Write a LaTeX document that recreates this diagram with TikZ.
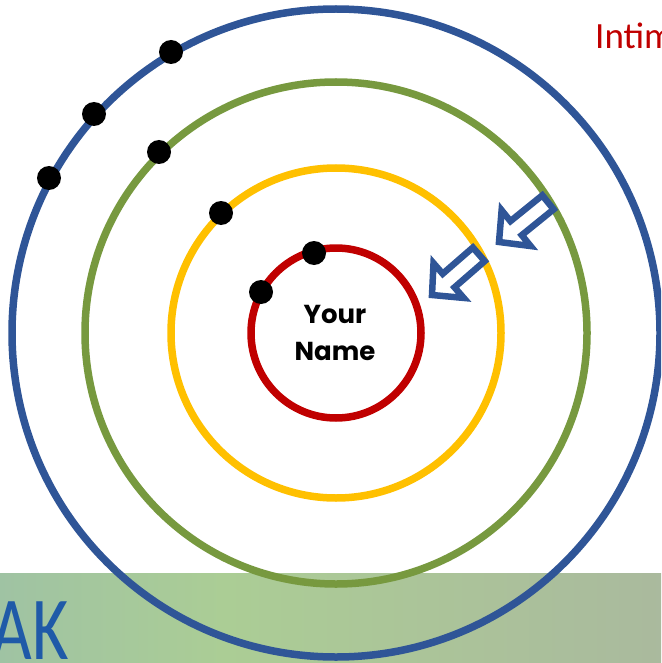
\documentclass[tikz,border=0pt]{standalone}
\usepackage{fontspec}
\setmainfont{Carlito}
\newfontfamily\namefont{Poppins}
\definecolor{cblue}{HTML}{2F5597}
\definecolor{cgreen}{HTML}{77993F}
\definecolor{cyellow}{HTML}{FFC000}
\definecolor{cred}{HTML}{C00000}
\definecolor{akblue}{HTML}{1F5AA8}
\definecolor{bandL}{HTML}{8EB4B8}
\definecolor{bandM}{HTML}{ABCD95}
\definecolor{bandR}{HTML}{AAB2A1}
\pgfdeclarehorizontalshading{bandshade}{100bp}{
  color(0bp)=(bandL); color(42bp)=(bandM); color(88bp)=(bandR); color(100bp)=(bandR)}
\tikzset{
  ring/.style={draw, line width=7.5pt, fill=none},
  dot/.style={circle, fill=black, minimum size=24pt, inner sep=0pt},
  blockarrow/.style={draw=cblue, fill=white, line width=6.5pt, line join=miter},
}
\begin{document}
\begin{tikzpicture}[x=1pt,y=-1pt]
\useasboundingbox (0,0) rectangle (661,663);
\clip (0,0) rectangle (661,663);
% band
\path[shading=bandshade] (0,573) rectangle (661,663);
\node[anchor=base east, text=akblue, font=\fontsize{90}{90}\selectfont, xscale=0.78, inner sep=0pt] (ak) at (69,659) {AK};
% rings
\coordinate (c) at (336,333);
\draw[ring, cblue] (c) circle[radius=324];
\draw[ring, cgreen] (c) circle[radius=251];
\draw[ring, cyellow] (c) circle[radius=165];
\draw[ring, cred] (c) circle[radius=85];
% text
\node[anchor=base west, text=cred, font=\fontsize{37}{37}\selectfont, inner sep=0pt] (intim) at (595,49) {Intimate};
\node[font=\namefont\bfseries\fontsize{26}{37}\selectfont, align=center, inner sep=0pt] (name) at (335,333) {Your\\Name};
% dots
\node[dot] (d1) at (171,52) {};
\node[dot] (d2) at (94,114) {};
\node[dot] (d3) at (49,178) {};
\node[dot] (d4) at (159,152) {};
\node[dot] (d5) at (221,213) {};
\node[dot] (d6) at (314,253) {};
\node[dot] (d7) at (261,292) {};
% arrows
\begin{scope}[shift={(499,242)}, rotate=39]
\draw[blockarrow] (0,0) -- (22,23) -- (22,9) -- (63,9) -- (63,-9) -- (22,-9) -- (22,-23) -- cycle;
\end{scope}
\begin{scope}[shift={(432,295)}, rotate=41]
\draw[blockarrow] (0,0) -- (22,23) -- (22,9) -- (62,9) -- (62,-9) -- (22,-9) -- (22,-23) -- cycle;
\end{scope}
\end{tikzpicture}
\end{document}
